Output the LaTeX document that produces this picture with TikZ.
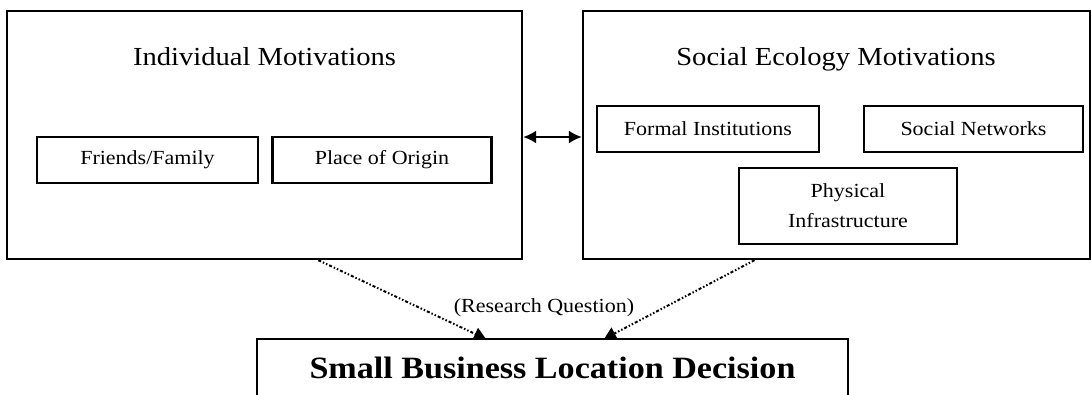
\documentclass[tikz,border=0pt]{standalone}
\usepackage{fontspec}
\setmainfont{Liberation Serif}[FakeStretch=1.1]
\usetikzlibrary{arrows.meta,calc}
\tikzset{
  bigbox/.style={draw,line width=2.4pt,inner sep=0pt,minimum width=#1,minimum height=248pt},
  subbox/.style={draw,line width=2.4pt,inner sep=0pt,minimum height=46pt,font=\fontsize{20}{30}\selectfont},
  titletext/.style={anchor=base,inner sep=0pt,font=\fontsize{26}{31}\selectfont},
  rqlink/.style={line width=2pt,dash pattern=on 3pt off 2pt on 1.5pt off 2pt on 1.5pt off 2pt,
                 -{Triangle[length=12pt,width=13pt]}},
  dbl/.style={line width=2pt,{Latex[length=13pt,width=13pt]}-{Latex[length=13pt,width=13pt]}},
}
\begin{document}
\begin{tikzpicture}[x=1pt,y=-1pt]
\useasboundingbox (0,0) rectangle (1091,394);
% big boxes
\node[bigbox=515pt] (L) at (264.5,135) {};
\node[bigbox=507pt] (R) at (836.5,135) {};
\node[titletext] (Lt) at (264.5,65) {Individual Motivations};
\node[titletext] (Rt) at (836,65) {Social Ecology Motivations};
% sub boxes
\node[subbox,minimum width=221pt] (FF) at (147.5,160) {Friends/Family};
\node[subbox,minimum width=219pt] (PO) at (382,160) {Place of Origin};
\node[subbox,minimum width=222pt] (FI) at (708,129) {Formal Institutions};
\node[subbox,minimum width=219pt] (SN) at (973.5,129) {Social Networks};
\node[subbox,minimum width=218pt,minimum height=76pt,align=center] (PI) at (848,206) {Physical\\Infrastructure};
% double arrow
\coordinate (mid) at (552,137);
\draw[dbl] (L.east |- mid) -- (R.west |- mid);
% research question
\node[anchor=base,inner sep=0pt,font=\fontsize{20}{24}\selectfont] (RQ) at (544,312) {(Research Question)};
% connectors
\coordinate (la) at ($(L.south west)!0.604!(L.south east)$);
\coordinate (lb) at (486,339);
\coordinate (ra) at ($(R.south west)!0.339!(R.south east)$);
\coordinate (rb) at (604,339);
\draw[rqlink] (la) -- (lb);
\draw[rqlink] (ra) -- (rb);
% bottom box
\node[draw,fill=white,line width=2.4pt,minimum width=591pt,minimum height=58pt,inner sep=0pt,
      font=\fontsize{31}{36}\selectfont\bfseries] (B) at (552.5,368) {Small Business Location Decision};
\end{tikzpicture}
\end{document}
